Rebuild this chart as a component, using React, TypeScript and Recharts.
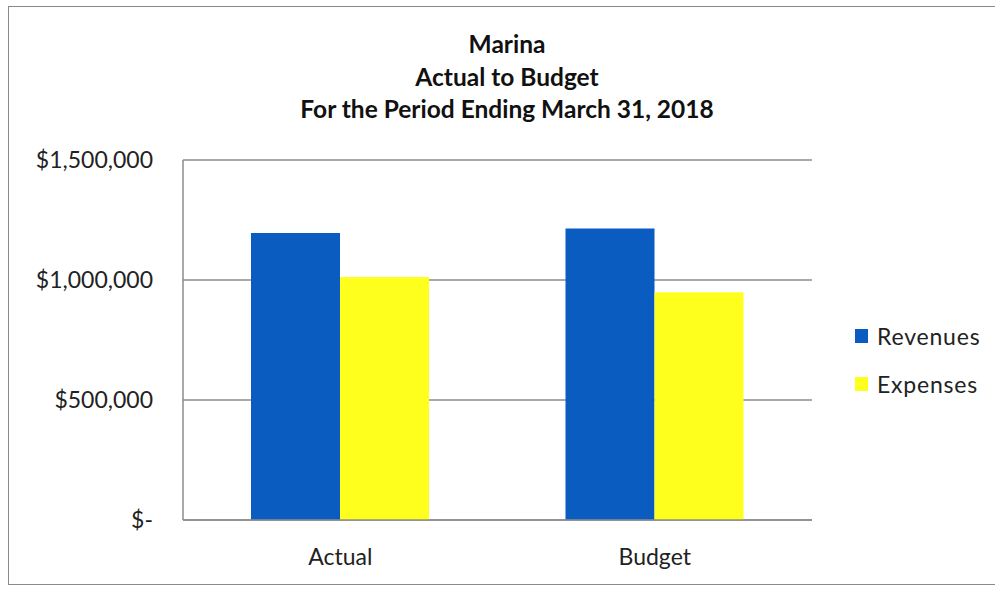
import React from 'react';
import { BarChart, Bar, XAxis, YAxis, CartesianGrid } from 'recharts';

const categories = ['Actual', 'Budget'];
const revenues = [1196000, 1215000];
const expenses = [1012000, 949000];
const yTicks = [0, 500000, 1000000, 1500000];
const titleLines = ['Marina', 'Actual to Budget', 'For the Period Ending March 31, 2018'];
const seriesNames = ['Revenues', 'Expenses'];
const seriesColors = ['#0b5cc0', '#ffff1e'];

const data = categories.map((name, i) => ({
  name,
  Revenues: revenues[i],
  Expenses: expenses[i],
}));

const FONT = 'Lato, "Open Sans", sans-serif';
const GRID = '#8c8c8c';

const formatMoney = (v: number) => (v === 0 ? '$-' : '$' + v.toLocaleString('en-US'));

export default function App() {
  return (
    <div style={{ position: 'absolute', left: 0, top: 0, width: 995, height: 590, background: '#fff' }}>
      <div
        style={{
          position: 'absolute',
          left: 8,
          top: 6,
          width: 995,
          height: 579,
          border: '1.5px solid #8a8a8a',
          boxSizing: 'border-box',
        }}
      />
      <div
        style={{
          position: 'absolute',
          left: 0,
          top: 28,
          width: 1014,
          textAlign: 'center',
          fontFamily: FONT,
          fontWeight: 700,
          fontSize: 24.5,
          lineHeight: '32.5px',
          color: '#111',
        }}
      >
        {titleLines.map((t) => (
          <div key={t}>{t}</div>
        ))}
      </div>
      <div style={{ position: 'absolute', left: 0, top: 0 }}>
        <BarChart
          width={995}
          height={590}
          data={data}
          margin={{ top: 160, right: 183, bottom: 40, left: 13 }}
          barGap={0}
          barSize={89}
        >
          <CartesianGrid vertical={false} stroke={GRID} strokeWidth={1.5} />
          <XAxis
            dataKey="name"
            height={30}
            axisLine={{ stroke: GRID, strokeWidth: 1.5 }}
            tickLine={false}
            tick={{ fontFamily: FONT, fontSize: 23, fill: '#222' }}
            tickMargin={23}
          />
          <YAxis
            width={170}
            domain={[0, 1500000]}
            ticks={yTicks}
            tickFormatter={formatMoney}
            axisLine={{ stroke: GRID, strokeWidth: 1.5 }}
            tickLine={false}
            tickSize={0}
            tickMargin={30}
            tick={{ fontFamily: FONT, fontSize: 23, fill: '#222' }}
            interval={0}
          />
          {seriesNames.map((s, i) => (
            <Bar key={s} dataKey={s} fill={seriesColors[i]} isAnimationActive={false} />
          ))}
        </BarChart>
      </div>
      <div
        style={{
          position: 'absolute',
          left: 855,
          top: 312,
          fontFamily: FONT,
          fontSize: 23,
          color: '#222',
        }}
      >
        {seriesNames.map((s, i) => (
          <div key={s} style={{ display: 'flex', alignItems: 'center', height: 48 }}>
            <span style={{ width: 13, height: 14, background: seriesColors[i], marginRight: 9, display: 'inline-block' }} />
            <span style={{ letterSpacing: 0.8 }}>{s}</span>
          </div>
        ))}
      </div>
    </div>
  );
}
